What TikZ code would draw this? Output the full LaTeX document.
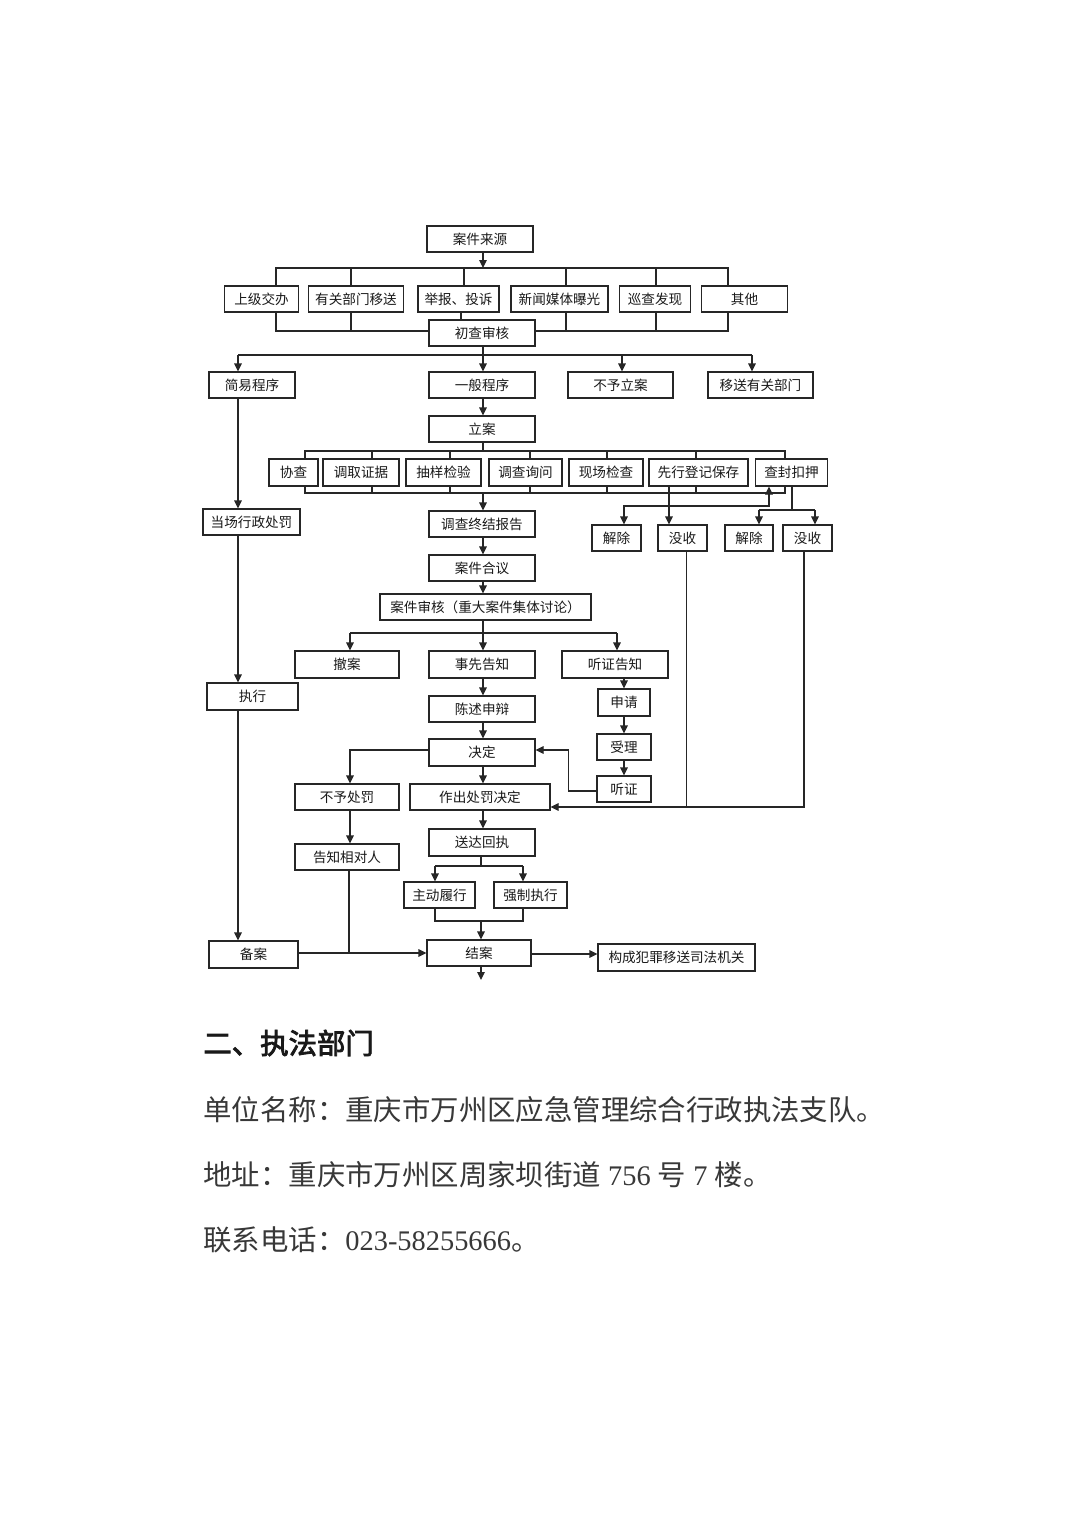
\documentclass[tikz,border=0pt]{standalone}
\usepackage{fontspec}
\setmainfont{Liberation Serif}
\newfontfamily\cjk{Noto Sans CJK SC}
\newfontfamily\cjkh[FakeBold=3]{Noto Sans CJK SC}
\usetikzlibrary{arrows.meta,backgrounds}
\tikzset{
  box/.style={draw=black!85, fill=white, line width=0.55pt, inner sep=0pt,
    minimum height=13pt, font=\cjk\fontsize{6.8pt}{7pt}\selectfont, text=black!90},
  ln/.style={draw=black!85, line width=0.55pt},
  arr/.style={ln, -{Triangle[length=4pt,width=3.8pt]}},
  dbl/.style={ln, {Triangle[length=4pt,width=3.8pt]}-{Triangle[length=4pt,width=3.8pt]}},
  body/.style={anchor=west, inner sep=0pt, text=black!78, font=\fontsize{14.2pt}{16pt}\selectfont},
}
\begin{document}
\begin{tikzpicture}[x=0.5pt,y=-0.5pt]
\useasboundingbox (0,0) rectangle (1074,1520);
% ---------- boxes ----------
\node[box, minimum width=53pt] (src) at (480,239) {案件来源};
\node[box, minimum width=37pt] (s1) at (261.5,299) {上级交办};
\node[box, minimum width=47.5pt] (s2) at (356,299) {有关部门移送};
\node[box, minimum width=40.5pt] (s3) at (458.5,299) {举报、投诉};
\node[box, minimum width=48.5pt] (s4) at (559.5,299) {新闻媒体曝光};
\node[box, minimum width=35.5pt] (s5) at (655,299) {巡查发现};
\node[box, minimum width=43pt] (s6) at (744.5,299) {其他};
\node[box, minimum width=53pt] (ccsh) at (482,333) {初查审核};
\node[box, minimum width=43pt] (jy) at (252,385) {简易程序};
\node[box, minimum width=53pt] (yb) at (482,385) {一般程序};
\node[box, minimum width=52.5pt] (byla) at (620.5,385) {不予立案};
\node[box, minimum width=52.5pt] (ysyg) at (760.5,385) {移送有关部门};
\node[box, minimum width=53pt] (la) at (482,429) {立案};
\node[box, minimum width=24.5pt, minimum height=13.5pt] (xc) at (293.5,472.5) {协查};
\node[box, minimum width=38pt, minimum height=13.5pt] (dq) at (361,472.5) {调取证据};
\node[box, minimum width=37.5pt, minimum height=13.5pt] (cy) at (443.5,472.5) {抽样检验};
\node[box, minimum width=36.5pt, minimum height=13.5pt] (dx) at (525.5,472.5) {调查询问};
\node[box, minimum width=37pt, minimum height=13.5pt] (xj) at (606,472.5) {现场检查};
\node[box, minimum width=49.5pt, minimum height=13.5pt] (xx) at (698.5,472.5) {先行登记保存};
\node[box, minimum width=36pt, minimum height=13.5pt] (cf) at (791.5,472.5) {查封扣押};
\node[box, minimum width=48.5pt] (dc) at (251.5,522) {当场行政处罚};
\node[box, minimum width=53pt] (zj) at (482,524) {调查终结报告};
\node[box, minimum width=24.5pt] (jcA) at (616.5,538) {解除};
\node[box, minimum width=24.5pt] (msA) at (682.5,538) {没收};
\node[box, minimum width=24pt] (jcB) at (749,538) {解除};
\node[box, minimum width=24.5pt] (msB) at (807.5,538) {没收};
\node[box, minimum width=53pt] (hy) at (482,568) {案件合议};
\node[box, minimum width=105.5pt] (sh) at (485.5,607) {案件审核（重大案件集体讨论）};
\node[box, minimum width=52pt, minimum height=13.5pt] (ca) at (347,664.5) {撤案};
\node[box, minimum width=53pt, minimum height=13.5pt] (sx) at (482,664.5) {事先告知};
\node[box, minimum width=53pt, minimum height=13.5pt] (tzgz) at (615,664.5) {听证告知};
\node[box, minimum width=45.5pt, minimum height=13.5pt] (zx) at (252.5,696.5) {执行};
\node[box, minimum width=53pt] (cs) at (482,709) {陈述申辩};
\node[box, minimum width=26pt, minimum height=13.5pt] (sq) at (624,702.5) {申请};
\node[box, minimum width=27pt] (sl) at (624,747) {受理};
\node[box, minimum width=53pt, minimum height=13.5pt] (jd) at (482,752.5) {决定};
\node[box, minimum width=27pt] (tz) at (624,789) {听证};
\node[box, minimum width=52pt] (bycf) at (347,797) {不予处罚};
\node[box, minimum width=70pt] (zc) at (480,797) {作出处罚决定};
\node[box, minimum width=53pt, minimum height=13.5pt] (sd) at (482,842.5) {送达回执};
\node[box, minimum width=52pt] (gz) at (347,857) {告知相对人};
\node[box, minimum width=35.5pt] (zd) at (439.5,895) {主动履行};
\node[box, minimum width=36.5pt] (qz) at (530.5,895) {强制执行};
\node[box, minimum width=44.5pt, minimum height=13.5pt] (ba) at (253.5,954.5) {备案};
\node[box, minimum width=52pt] (ja) at (479,953) {结案};
\node[box, minimum width=78.5pt, minimum height=13.5pt] (gc) at (676.5,957.5) {构成犯罪移送司法机关};
% ---------- column coordinates ----------
\coordinate (cL) at (238,0);
\coordinate (cM) at (483,0);
\coordinate (cN) at (350,0);
\coordinate (end) at (481,980);
% ---------- text ----------
\node[body, font=\cjkh\fontsize{14.2pt}{16pt}\selectfont, text=black!90] (h2) at (203,1043) {二、执法部门};
\node[body] (t1) at (203,1110) {\cjk 单位名称：重庆市万州区应急管理综合行政执法支队。};
\node[body] (t2) at (203,1175) {{\cjk 地址：重庆市万州区周家坝街道}\ 756\ {\cjk 号}\ 7\ {\cjk 楼。}};
\node[body] (t3) at (203,1240) {{\cjk 联系电话：}023-58255666{\cjk 。}};
% ---------- connectors ----------
\begin{scope}[on background layer]
\fill[white] (0,0) rectangle (1074,1520);
% sources
\draw[arr] (src.south -| cM) -- (483,268);
\draw[ln] (276,286) -- (276,268) -- (728,268) -- (728,286);
\foreach \x in {351,464,566,656} \draw[ln] (\x,268) -- (\x,286);
\draw[ln] (276,312) -- (276,331) -- (728,331) -- (728,312);
\foreach \x in {351,566,656} \draw[ln] (\x,312) -- (\x,331);
\draw[ln] (s3.south -| 461,0) -- (ccsh.north -| 461,0);
% after initial review
\draw[ln] (ccsh.south -| cM) -- (483,355);
\draw[ln] (238,355) -- (752,355);
\draw[arr] (238,355) -- (jy.north -| cL);
\draw[arr] (483,355) -- (yb.north -| cM);
\draw[arr] (622,355) -- (byla.north -| 622,0);
\draw[arr] (752,355) -- (ysyg.north -| 752,0);
\draw[arr] (yb.south -| cM) -- (la.north -| cM);
% investigation row
\draw[ln] (la.south -| cM) -- (483,451);
\draw[ln] (305,493) -- (305,451) -- (785,451) -- (785,493) -- cycle;
\foreach \x in {372,450,530,607,696} {\draw[ln] (\x,451) -- (\x,459); \draw[ln] (\x,486) -- (\x,493);}
\draw[arr] (483,493) -- (zj.north -| cM);
\draw[arr] (xx.south -| 669,0) -- (msA.north -| 669,0);
\draw[dbl] (jcA.north -| 624,0) -- (624,506) -- (769,506) -- (cf.south -| 769,0);
\draw[ln] (cf.south -| 792,0) -- (792,510);
\draw[arr] (759,510) -- (jcB.north -| 759,0);
\draw[arr] (815,510) -- (msB.north -| 815,0);
\draw[ln] (759,510) -- (815,510);
% simple procedure column
\draw[arr] (jy.south -| cL) -- (dc.north -| cL);
\draw[arr] (dc.south -| cL) -- (zx.north -| cL);
\draw[arr] (zx.south -| cL) -- (ba.north -| cL);
% main column
\draw[arr] (zj.south -| cM) -- (hy.north -| cM);
\draw[arr] (hy.south -| cM) -- (sh.north -| cM);
\draw[ln] (sh.south -| cM) -- (483,633);
\draw[ln] (350,633) -- (617,633);
\draw[arr] (350,633) -- (ca.north -| cN);
\draw[arr] (483,633) -- (sx.north -| cM);
\draw[arr] (617,633) -- (tzgz.north -| 617,0);
\draw[arr] (sx.south -| cM) -- (cs.north -| cM);
\draw[arr] (tzgz.south -| 624,0) -- (sq.north);
\draw[arr] (sq.south) -- (sl.north);
\draw[arr] (sl.south) -- (tz.north);
\draw[arr] (cs.south -| cM) -- (jd.north -| cM);
\draw[arr] (tz.west |- 0,791) -- (568.5,791) -- (568.5,750) -- (jd.east |- 0,750);
\draw[arr] (jd.west |- 0,750) -- (350,750) -- (bycf.north -| cN);
\draw[arr] (jd.south -| cM) -- (zc.north -| cM);
\draw[ln] (msA.south -| 686.5,0) -- (686.5,807);
\draw[arr] (msB.south -| 804,0) -- (804,807) -- (zc.east |- 0,807);
\draw[arr] (bycf.south -| cN) -- (gz.north -| cN);
\draw[arr] (zc.south -| cM) -- (sd.north -| cM);
\draw[ln] (sd.south -| 481,0) -- (481,866);
\draw[ln] (435,866) -- (523,866);
\draw[arr] (435,866) -- (zd.north -| 435,0);
\draw[arr] (523,866) -- (qz.north -| 523,0);
\draw[ln] (zd.south -| 435,0) -- (435,921) -- (523,921) -- (qz.south -| 523,0);
\draw[arr] (481,921) -- (ja.north -| 481,0);
\draw[arr] (ba.east |- 0,953) -- (ja.west |- 0,953);
\draw[ln] (gz.south -| 349,0) -- (349,953);
\draw[arr] (ja.east |- 0,954) -- (gc.west |- 0,954);
\draw[arr] (ja.south -| end) -- (end);
\end{scope}
\end{tikzpicture}
\end{document}
